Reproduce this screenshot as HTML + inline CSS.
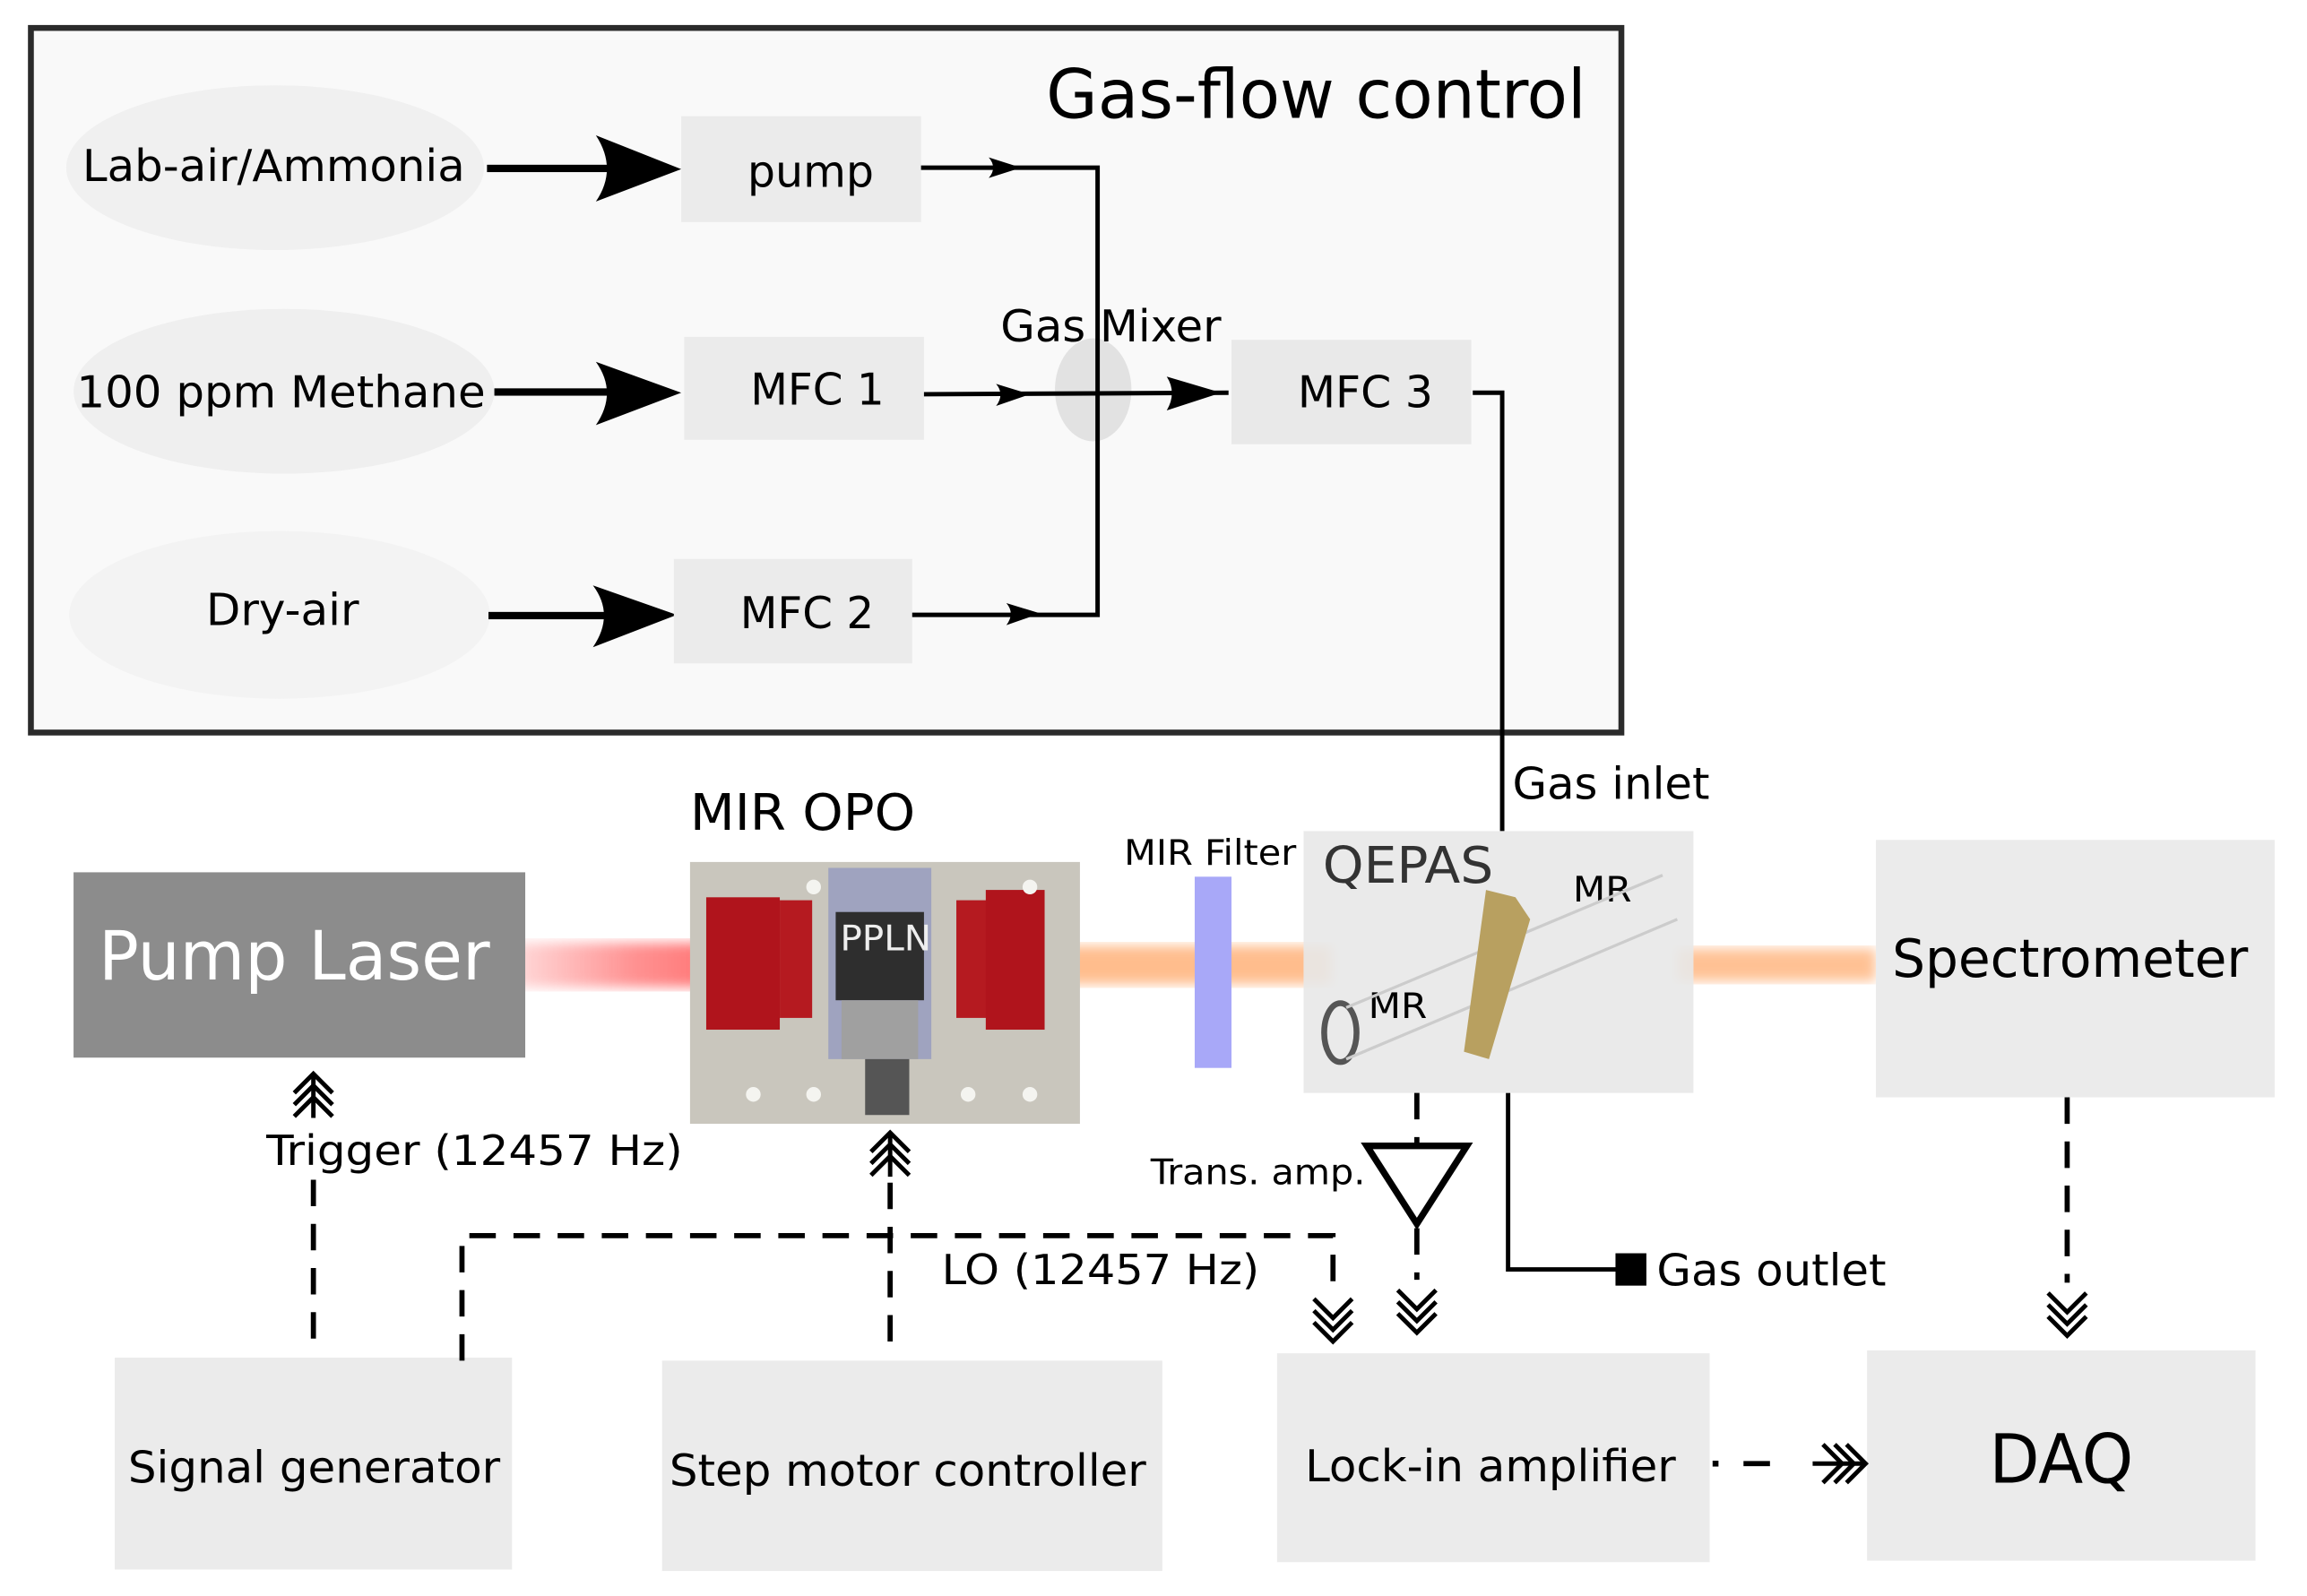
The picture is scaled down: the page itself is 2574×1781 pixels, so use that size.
<!DOCTYPE html>
<html><head><meta charset="utf-8"><style>
html,body{margin:0;padding:0;background:#fff;}
svg{display:block;}
text{font-family:"DejaVu Sans Condensed","DejaVu Sans","Liberation Sans",sans-serif;fill:#000;}
</style></head><body>
<svg width="2574" height="1781" viewBox="0 0 1568 1085" preserveAspectRatio="none" xmlns="http://www.w3.org/2000/svg">
<defs>
<linearGradient id="red" x1="0" x2="1" y1="0" y2="0">
<stop offset="0" stop-color="#ff8080" stop-opacity="0.3"/><stop offset="0.5" stop-color="#f77" stop-opacity="0.8"/><stop offset="1" stop-color="#f55" stop-opacity="0.9"/></linearGradient>
<linearGradient id="rv" x1="0" x2="0" y1="0" y2="1">
<stop offset="0" stop-color="#fff" stop-opacity="0"/><stop offset="0.5" stop-color="#fff" stop-opacity="0"/><stop offset="1" stop-color="#fff" stop-opacity="0"/></linearGradient>
<filter id="blur"><feGaussianBlur stdDeviation="4"/></filter>
</defs>
<rect width="1568" height="1085" fill="#fff"/>
<!-- gas flow box -->
<rect x="21" y="19" width="1081" height="479" fill="#f9f9f9" stroke="#2b2b2b" stroke-width="4"/>
<text x="711" y="80" font-size="46" textLength="367" lengthAdjust="spacingAndGlyphs">Gas-flow control</text>
<ellipse cx="187" cy="114" rx="142" ry="56" fill="#f0f0f0"/>
<ellipse cx="193" cy="266" rx="143" ry="56" fill="#efefef"/>
<ellipse cx="190" cy="418" rx="143" ry="57" fill="#f3f3f3"/>
<text x="56" y="123" font-size="30" textLength="260" lengthAdjust="spacingAndGlyphs">Lab-air/Ammonia</text>
<text x="52" y="277" font-size="30" textLength="278" lengthAdjust="spacingAndGlyphs">100 ppm Methane</text>
<text x="140" y="425" font-size="30" textLength="104" lengthAdjust="spacingAndGlyphs">Dry-air</text>
<g fill="#000">
<rect x="331" y="112" width="100" height="5"/><path d="M405,92 L463,115 L405,137 Q420,115 405,92Z"/>
<rect x="336" y="264" width="95" height="5"/><path d="M405,246 L463,267 L405,289 Q420,267 405,246Z"/>
<rect x="332" y="416" width="95" height="5"/><path d="M403,398 L460,418 L403,440 Q418,418 403,398Z"/>
</g>
<rect x="463" y="79" width="163" height="72" fill="#ebebeb"/>
<rect x="465" y="229" width="163" height="70" fill="#ebebeb"/>
<rect x="458" y="380" width="162" height="71" fill="#ebebeb"/>
<rect x="837" y="231" width="163" height="71" fill="#e9e9e9"/>
<text x="508" y="127" font-size="30" textLength="86" lengthAdjust="spacingAndGlyphs">pump</text>
<text x="510" y="275" font-size="30" textLength="91" lengthAdjust="spacingAndGlyphs">MFC 1</text>
<text x="503" y="427" font-size="30" textLength="91" lengthAdjust="spacingAndGlyphs">MFC 2</text>
<text x="882" y="277" font-size="30" textLength="92" lengthAdjust="spacingAndGlyphs">MFC 3</text>
<ellipse cx="743" cy="265" rx="26" ry="35" fill="#dedede" opacity="0.85"/>
<g stroke="#000" stroke-width="3" fill="none">
<polyline points="626,114 746,114 746,418 620,418"/>
<line x1="628" y1="268" x2="835" y2="267"/>
<polyline points="1001,267 1021,267 1021,565"/>
<polyline points="1025,743 1025,863 1100,863"/>
</g>
<g fill="#000">
<path d="M672,107 L694,114 L672,121 Q678,114 672,107Z"/>
<path d="M677,261 L700,268 L677,276 Q683,268 677,261Z"/>
<path d="M684,410 L707,417 L684,425 Q690,417 684,410Z"/>
<path d="M793,256 L830,267 L793,279 Q800,267 793,256Z"/>
<rect x="1098" y="852" width="21" height="22"/>
</g>
<text x="680" y="232" font-size="30" textLength="150" lengthAdjust="spacingAndGlyphs">Gas Mixer</text>
<text x="1028" y="543" font-size="30" textLength="134" lengthAdjust="spacingAndGlyphs">Gas inlet</text>
<text x="1126" y="874" font-size="30" textLength="156" lengthAdjust="spacingAndGlyphs">Gas outlet</text>
<!-- beams -->
<rect x="350" y="641" width="160" height="30" fill="url(#red)" filter="url(#blur)"/>
<rect x="720" y="643" width="185" height="26" fill="#ffb27a" opacity="0.85" filter="url(#blur)"/>
<rect x="1140" y="645" width="135" height="22" fill="#ffb27a" opacity="0.8" filter="url(#blur)"/>
<!-- pump laser -->
<rect x="50" y="593" width="307" height="126" fill="#8c8c8c"/>
<text x="67" y="666" font-size="46" fill="#fff" style="fill:#fff" textLength="266" lengthAdjust="spacingAndGlyphs">Pump Laser</text>
<!-- OPO -->
<text x="469" y="564" font-size="34" textLength="153" lengthAdjust="spacingAndGlyphs">MIR OPO</text>
<rect x="469" y="586" width="265" height="178" fill="#c9c6bd"/>
<rect x="563" y="590" width="70" height="130" fill="#9fa3bf"/>
<rect x="568" y="620" width="60" height="60" fill="#2e2e2e"/>
<rect x="572" y="680" width="52" height="40" fill="#a0a0a0"/>
<rect x="588" y="720" width="30" height="38" fill="#555"/>
<rect x="480" y="610" width="50" height="90" fill="#b0141c"/>
<rect x="530" y="612" width="22" height="80" fill="#b51a20"/>
<rect x="650" y="612" width="25" height="80" fill="#b51a20"/>
<rect x="670" y="605" width="40" height="95" fill="#b0141c"/>
<g fill="#f4f4f0"><circle cx="512" cy="744" r="5"/><circle cx="553" cy="744" r="5"/><circle cx="658" cy="744" r="5"/><circle cx="700" cy="744" r="5"/><circle cx="700" cy="603" r="5"/><circle cx="553" cy="603" r="5"/></g>
<text x="571" y="646" font-size="24" style="fill:#eee" textLength="62" lengthAdjust="spacingAndGlyphs">PPLN</text>
<!-- filter -->
<rect x="812" y="596" width="25" height="130" fill="#a8a8f8"/>
<text x="764" y="588" font-size="24" textLength="117" lengthAdjust="spacingAndGlyphs">MIR Filter</text>
<!-- QEPAS -->
<rect x="886" y="565" width="265" height="178" fill="#e8e8e8" opacity="0.9"/>
<text x="899" y="600" font-size="34" fill="#333" style="fill:#333" textLength="116" lengthAdjust="spacingAndGlyphs">QEPAS</text>
<text x="1069" y="613" font-size="24" textLength="40" lengthAdjust="spacingAndGlyphs">MR</text>
<text x="930" y="692" font-size="24" textLength="40" lengthAdjust="spacingAndGlyphs">MR</text>
<ellipse cx="911" cy="702" rx="11" ry="20" fill="none" stroke="#555" stroke-width="4"/>
<line x1="915" y1="685" x2="1130" y2="595" stroke="#ccc" stroke-width="2"/>
<line x1="915" y1="720" x2="1140" y2="625" stroke="#ccc" stroke-width="2"/>
<path d="M1010,605 L1030,610 L1040,625 L1012,720 L995,715 Z" fill="#b8a060"/>
<!-- spectrometer & bottom boxes -->
<rect x="1275" y="571" width="271" height="175" fill="#ebebeb"/>
<text x="1286" y="664" font-size="36" textLength="242" lengthAdjust="spacingAndGlyphs">Spectrometer</text>
<rect x="78" y="923" width="270" height="144" fill="#ebebeb"/>
<text x="87" y="1008" font-size="30" textLength="253" lengthAdjust="spacingAndGlyphs">Signal generator</text>
<rect x="450" y="925" width="340" height="143" fill="#ebebeb"/>
<text x="455" y="1010" font-size="30" textLength="324" lengthAdjust="spacingAndGlyphs">Step motor controller</text>
<rect x="868" y="920" width="294" height="142" fill="#ebebeb"/>
<text x="887" y="1007" font-size="30" textLength="252" lengthAdjust="spacingAndGlyphs">Lock-in amplifier</text>
<rect x="1269" y="918" width="264" height="143" fill="#ebebeb"/>
<text x="1401" y="1008" font-size="46" text-anchor="middle" textLength="98" lengthAdjust="spacingAndGlyphs">DAQ</text>
<!-- dashed -->
<g stroke="#000" stroke-width="3.5" fill="none" stroke-dasharray="18,12">
<line x1="213" y1="910" x2="213" y2="802"/>
<polyline points="314,925 314,840 906,840 906,872"/>
<line x1="605" y1="912" x2="605" y2="800"/>
<line x1="963" y1="743" x2="963" y2="778"/>
<line x1="963" y1="835" x2="963" y2="870"/>
<line x1="1405" y1="746" x2="1405" y2="872"/>
<line x1="1185" y1="995" x2="1212" y2="995"/>
</g>
<rect x="1164" y="993" width="4" height="4" fill="#000"/>
<!-- chevrons -->
<g stroke="#000" stroke-width="3" fill="none">
<g transform="translate(213,730)"><polyline points="-13,13 0,0 13,13"/><polyline points="-13,21 0,8 13,21"/><polyline points="-13,29 0,16 13,29"/><line x1="0" y1="0" x2="0" y2="30"/></g>
<g transform="translate(605,770)"><polyline points="-13,13 0,0 13,13"/><polyline points="-13,21 0,8 13,21"/><polyline points="-13,29 0,16 13,29"/><line x1="0" y1="0" x2="0" y2="30"/></g>
<g transform="translate(906,912)"><polyline points="-13,-13 0,0 13,-13"/><polyline points="-13,-21 0,-8 13,-21"/><polyline points="-13,-29 0,-16 13,-29"/></g>
<g transform="translate(963,906)"><polyline points="-13,-13 0,0 13,-13"/><polyline points="-13,-21 0,-8 13,-21"/><polyline points="-13,-29 0,-16 13,-29"/></g>
<g transform="translate(1405,908)"><polyline points="-13,-13 0,0 13,-13"/><polyline points="-13,-21 0,-8 13,-21"/><polyline points="-13,-29 0,-16 13,-29"/></g>
<g transform="translate(1268,995)"><polyline points="-13,-13 0,0 -13,13"/><polyline points="-21,-13 -8,0 -21,13"/><polyline points="-29,-13 -16,0 -29,13"/><line x1="-36" y1="0" x2="0" y2="0"/></g>
<path d="M929,779 L997,779 L963,832 Z" stroke-width="4.5"/>
</g>
<text x="181" y="792" font-size="28" textLength="283" lengthAdjust="spacingAndGlyphs">Trigger (12457 Hz)</text>
<text x="782" y="805" font-size="24" textLength="146" lengthAdjust="spacingAndGlyphs">Trans. amp.</text>
<text x="640" y="873" font-size="28" textLength="216" lengthAdjust="spacingAndGlyphs">LO (12457 Hz)</text>
</svg>
</body></html>
